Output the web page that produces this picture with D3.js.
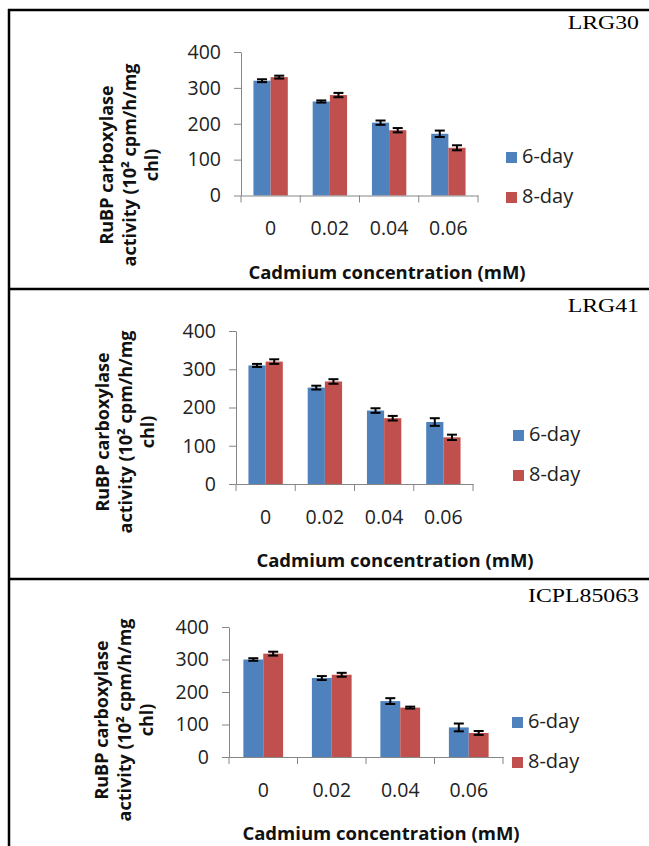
<!DOCTYPE html>
<html>
<head>
<meta charset="utf-8">
<script src="https://cdn.jsdelivr.net/npm/d3@7"></script>
<style>
  body { margin: 0; background: #fff; }
  svg { display: block; }
</style>
</head>
<body>
<div id="chart"></div>
<script>
var blue = "#4f81bd";
var red = "#c0504d";
var axisGrey = "#868686";

// data
var categories = ["0", "0.02", "0.04", "0.06"];
var seriesNames = ["6-day", "8-day"];
var yTicks = [0, 100, 200, 300, 400];
var varieties = ["LRG30", "LRG41", "ICPL85063"];

var lrg30Day6 = [320, 262, 203, 172];
var lrg30Day8 = [330, 280, 182, 133];
var lrg30Err6 = [4, 3, 6, 9];
var lrg30Err8 = [4, 6, 6, 7];

var lrg41Day6 = [310, 252, 192, 162];
var lrg41Day8 = [320, 268, 172, 122];
var lrg41Err6 = [4, 5, 6, 10];
var lrg41Err8 = [6, 6, 6, 7];

var icplDay6 = [300, 243, 172, 91];
var icplDay8 = [318, 253, 152, 74];
var icplErr6 = [4, 6, 9, 12];
var icplErr8 = [6, 6, 3, 6];

var width = 649, height = 846;

var svg = d3.select("#chart").append("svg")
    .attr("width", width)
    .attr("height", height);

// panel layout (pixel boxes of each sub-figure)
var panels = [
  { name: varieties[0], d6: lrg30Day6, d8: lrg30Day8, e6: lrg30Err6, e8: lrg30Err8,
    x0: 241, x1: 478, yTop: 52, yBot: 195.5, nameY: 29,
    legX: 506, legY: 152, titleX: 387, yTitleX: 129, yTitleY: 165 },
  { name: varieties[1], d6: lrg41Day6, d8: lrg41Day8, e6: lrg41Err6, e8: lrg41Err8,
    x0: 236, x1: 473, yTop: 331, yBot: 484, nameY: 312,
    legX: 513, legY: 430, titleX: 395, yTitleX: 125, yTitleY: 432 },
  { name: varieties[2], d6: icplDay6, d8: icplDay8, e6: icplErr6, e8: icplErr8,
    x0: 229, x1: 503, yTop: 627, yBot: 757, nameY: 602,
    legX: 512, legY: 717, titleX: 381, yTitleX: 124, yTitleY: 720 }
];

var sans = "'Open Sans', sans-serif";

// frame lines
var frame = svg.append("g")
    .attr("stroke", "black")
    .attr("stroke-width", 2.5);
frame.append("line").attr("x1", 9).attr("x2", 9).attr("y1", 9).attr("y2", height);
[10, 289, 579].forEach(function(y){
  frame.append("line").attr("x1", 8).attr("x2", width).attr("y1", y).attr("y2", y);
});

panels.forEach(function(p){
  var g = svg.append("g");

  var x = d3.scaleBand()
      .domain(categories)
      .range([p.x0, p.x1])
      .paddingInner(0.42)
      .paddingOuter(0.21);

  var xs = d3.scaleBand()
      .domain(seriesNames)
      .range([0, x.bandwidth()]);

  var y = d3.scaleLinear()
      .domain([0, 400])
      .range([p.yBot, p.yTop]);

  // y axis
  var yAxis = g.append("g")
      .attr("transform", "translate(" + p.x0 + ",0)")
      .call(d3.axisLeft(y).tickValues(yTicks).tickSize(7).tickPadding(13).tickSizeOuter(0));
  yAxis.select(".domain").attr("stroke", axisGrey);
  yAxis.selectAll(".tick line").attr("stroke", axisGrey);
  yAxis.selectAll(".tick text")
      .attr("font-family", sans)
      .attr("font-size", "19.5px")
      .attr("fill", "#222");

  // bars
  var rows = categories.map(function(c, i){
    return { cat: c, vals: [p.d6[i], p.d8[i]], errs: [p.e6[i], p.e8[i]] };
  });

  var grp = g.selectAll(".cat").data(rows).enter().append("g")
      .attr("transform", function(d){ return "translate(" + x(d.cat) + ",0)"; });

  grp.selectAll("rect").data(function(d){
      return seriesNames.map(function(s, k){ return { s: s, v: d.vals[k], e: d.errs[k] }; });
    }).enter().append("rect")
      .attr("x", function(d){ return xs(d.s); })
      .attr("y", function(d){ return y(d.v); })
      .attr("width", xs.bandwidth())
      .attr("height", function(d){ return y(0) - y(d.v); })
      .attr("fill", function(d, k){ return k === 0 ? blue : red; });

  // error bars
  var eb = grp.selectAll(".err").data(function(d){
      return seriesNames.map(function(s, k){ return { s: s, v: d.vals[k], e: d.errs[k] }; });
    }).enter().append("g")
      .attr("stroke", "black")
      .attr("stroke-width", 2);
  eb.append("line")
      .attr("x1", function(d){ return xs(d.s) + xs.bandwidth() / 2; })
      .attr("x2", function(d){ return xs(d.s) + xs.bandwidth() / 2; })
      .attr("y1", function(d){ return y(d.v + d.e); })
      .attr("y2", function(d){ return y(d.v - d.e); });
  eb.append("line")
      .attr("x1", function(d){ return xs(d.s) + xs.bandwidth() / 2 - 5; })
      .attr("x2", function(d){ return xs(d.s) + xs.bandwidth() / 2 + 5; })
      .attr("y1", function(d){ return y(d.v + d.e); })
      .attr("y2", function(d){ return y(d.v + d.e); });
  eb.append("line")
      .attr("x1", function(d){ return xs(d.s) + xs.bandwidth() / 2 - 5; })
      .attr("x2", function(d){ return xs(d.s) + xs.bandwidth() / 2 + 5; })
      .attr("y1", function(d){ return y(d.v - d.e); })
      .attr("y2", function(d){ return y(d.v - d.e); });

  // x axis with category labels, ticks at category borders
  var xAxis = g.append("g")
      .attr("transform", "translate(0," + p.yBot + ")")
      .call(d3.axisBottom(x).tickSize(0).tickPadding(26));
  xAxis.select(".domain").attr("stroke", axisGrey);
  xAxis.selectAll(".tick text")
      .attr("font-family", sans)
      .attr("font-size", "19.5px")
      .attr("fill", "#222");
  var step = x.step();
  var borders = categories.map(function(c){ return x(c) - x.paddingInner() * step / 2; })
      .concat([p.x1]);
  xAxis.selectAll(".border").data(borders).enter().append("line")
      .attr("x1", function(d){ return d; })
      .attr("x2", function(d){ return d; })
      .attr("y1", 0)
      .attr("y2", 7)
      .attr("stroke", axisGrey);

  // x axis title
  g.append("text")
      .attr("x", p.titleX)
      .attr("y", p.yBot + 83)
      .attr("text-anchor", "middle")
      .attr("font-family", sans)
      .attr("font-weight", "bold")
      .attr("font-size", "18.5px")
      .attr("fill", "#111")
      .text("Cadmium concentration (mM)");

  // y axis title, three lines
  var yt = g.append("text")
      .attr("transform", "translate(" + p.yTitleX + "," + p.yTitleY + ") rotate(-90)")
      .attr("text-anchor", "middle")
      .attr("font-family", sans)
      .attr("font-weight", "bold")
      .attr("font-size", "18px")
      .attr("fill", "#111");
  ["RuBP carboxylase", "activity (10² cpm/h/mg", "chl)"].forEach(function(t, i){
    yt.append("tspan")
        .attr("x", 0)
        .attr("y", (i - 1) * 22.5 + 6.5)
        .text(t);
  });

  // legend
  var leg = g.append("g")
      .attr("transform", "translate(" + p.legX + "," + p.legY + ")");
  seriesNames.forEach(function(s, k){
    leg.append("rect")
        .attr("x", 0)
        .attr("y", k * 40)
        .attr("width", 11)
        .attr("height", 11)
        .attr("fill", k === 0 ? blue : red);
    leg.append("text")
        .attr("x", 16)
        .attr("y", k * 40 + 11)
        .attr("font-family", sans)
        .attr("font-size", "20px")
        .attr("fill", "#222")
        .text(s);
  });

  // variety name in the corner
  g.append("text")
      .attr("transform", "translate(639," + p.nameY + ") scale(1.22,1)")
      .attr("text-anchor", "end")
      .attr("font-family", "'Liberation Serif', 'Times New Roman', serif")
      .attr("font-size", "19.5px")
      .attr("fill", "black")
      .text(p.name);
});
</script>
</body>
</html>
